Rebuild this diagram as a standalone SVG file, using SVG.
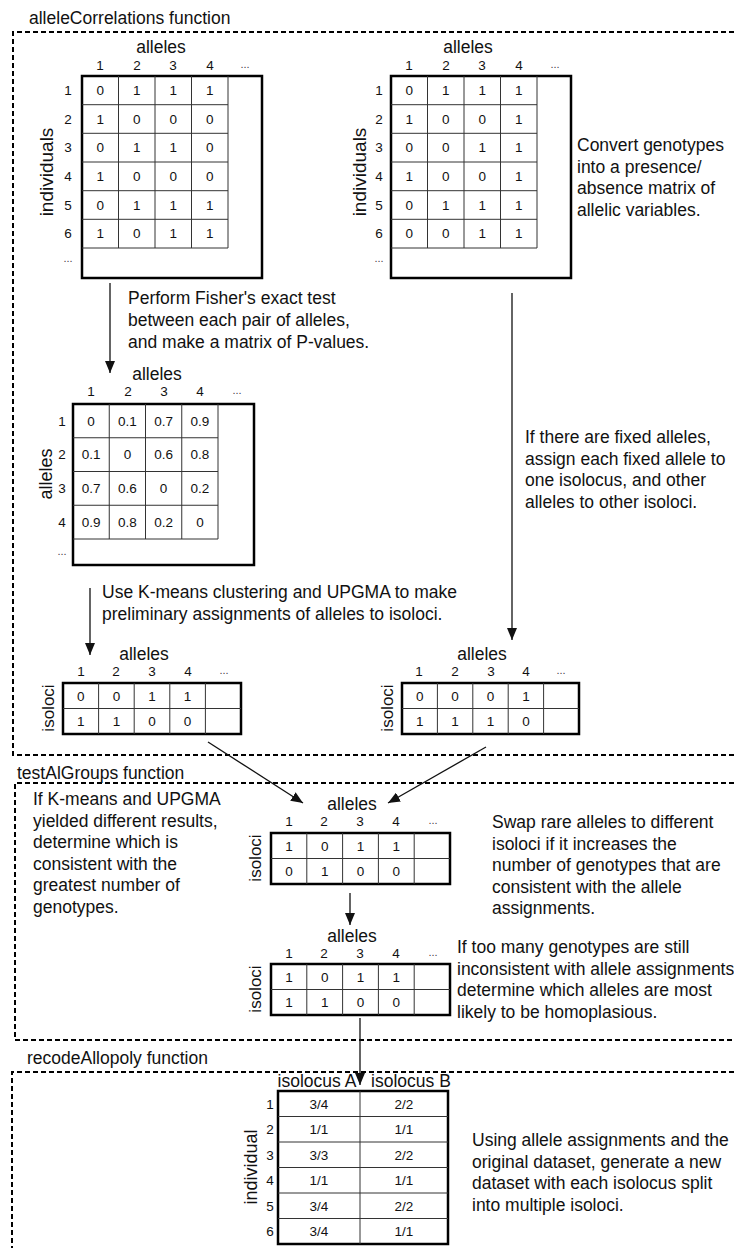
<svg xmlns="http://www.w3.org/2000/svg" width="734" height="1248" viewBox="0 0 734 1248">
<style>
text{font-family:"Liberation Sans",Arial,sans-serif;fill:#111}
.t{font-size:17.5px}
.h{font-size:17.5px;text-anchor:middle}
.r{font-size:18px;text-anchor:middle}
.ri{font-size:19px;text-anchor:middle}
.rs{font-size:17px;text-anchor:middle}
.n{font-size:13.5px;text-anchor:middle}
.v{font-size:13.5px;text-anchor:middle}
.d{font-size:11px;text-anchor:middle;fill:#444}
.box{fill:none;stroke:#000;stroke-width:2;stroke-dasharray:5 3}
.outer{fill:none;stroke:#000;stroke-width:2.5}
.grid{fill:none;stroke:#333;stroke-width:1}
.arr{fill:none;stroke:#111;stroke-width:1.3;marker-end:url(#ah)}
</style>
<defs>
<marker id="ah" viewBox="0 0 12 10" refX="12" refY="5" markerWidth="12" markerHeight="10" markerUnits="userSpaceOnUse" orient="auto"><path d="M0,0L12,5L0,10z" fill="#111"/></marker>
</defs>

<g id="frames">
<path class="box" d="M734,32H13V755H734"/>
<text class="t" x="29" y="24">alleleCorrelations function</text>
<path class="box" d="M734,783H15V1040H734"/>
<text class="t" x="17" y="779">testAlGroups function</text>
<path class="box" d="M734,1072H12V1248"/>
<text class="t" x="27" y="1064">recodeAllopoly function</text>
</g>

<g id="connectors">
<line class="arr" x1="110" y1="283" x2="110" y2="373"/>
<line class="arr" x1="512" y1="293" x2="512" y2="640"/>
<line class="arr" x1="90" y1="588" x2="90" y2="655"/>
<line class="arr" x1="208" y1="742" x2="303" y2="803"/>
<line class="arr" x1="486" y1="747" x2="388" y2="803"/>
<line class="arr" x1="350" y1="893" x2="350" y2="925"/>
<line class="arr" x1="360" y1="1018" x2="360" y2="1085"/>
</g>

<g id="matrix-genotypes-1">
<rect class="outer" x="82" y="76" width="180" height="202"/>
<path class="grid" d="M118.5,76V248M155,76V248M191.5,76V248M228,76V248M82,104.7H228M82,133.3H228M82,162H228M82,190.7H228M82,219.3H228M82,248H228"/>
<text class="h" x="161" y="53">alleles</text>
<text class="n" x="100" y="70">1</text><text class="n" x="137" y="70">2</text><text class="n" x="173" y="70">3</text><text class="n" x="210" y="70">4</text><text class="d" x="245" y="68">...</text>
<text class="n" x="68" y="95">1</text><text class="n" x="68" y="123.5">2</text><text class="n" x="68" y="152">3</text><text class="n" x="68" y="181">4</text><text class="n" x="68" y="209.5">5</text><text class="n" x="68" y="238">6</text><text class="d" x="68" y="262">...</text>
<text class="ri" transform="translate(53,172) rotate(-90)">individuals</text>
<text class="n" x="100.3" y="95">0</text><text class="n" x="136.8" y="95">1</text><text class="n" x="173.3" y="95">1</text><text class="n" x="209.8" y="95">1</text>
<text class="n" x="100.3" y="123.5">1</text><text class="n" x="136.8" y="123.5">0</text><text class="n" x="173.3" y="123.5">0</text><text class="n" x="209.8" y="123.5">0</text>
<text class="n" x="100.3" y="152">0</text><text class="n" x="136.8" y="152">1</text><text class="n" x="173.3" y="152">1</text><text class="n" x="209.8" y="152">0</text>
<text class="n" x="100.3" y="181">1</text><text class="n" x="136.8" y="181">0</text><text class="n" x="173.3" y="181">0</text><text class="n" x="209.8" y="181">0</text>
<text class="n" x="100.3" y="209.5">0</text><text class="n" x="136.8" y="209.5">1</text><text class="n" x="173.3" y="209.5">1</text><text class="n" x="209.8" y="209.5">1</text>
<text class="n" x="100.3" y="238">1</text><text class="n" x="136.8" y="238">0</text><text class="n" x="173.3" y="238">1</text><text class="n" x="209.8" y="238">1</text>
</g>

<g id="matrix-genotypes-2">
<rect class="outer" x="391" y="76" width="180" height="202"/>
<path class="grid" d="M427.5,76V248M464,76V248M500.5,76V248M537,76V248M391,104.7H537M391,133.3H537M391,162H537M391,190.7H537M391,219.3H537M391,248H537"/>
<text class="h" x="468" y="53">alleles</text>
<text class="n" x="409" y="70">1</text><text class="n" x="446" y="70">2</text><text class="n" x="482" y="70">3</text><text class="n" x="519" y="70">4</text><text class="d" x="555" y="68">...</text>
<text class="n" x="379" y="95">1</text><text class="n" x="379" y="123.5">2</text><text class="n" x="379" y="152">3</text><text class="n" x="379" y="181">4</text><text class="n" x="379" y="209.5">5</text><text class="n" x="379" y="238">6</text><text class="d" x="379" y="262">...</text>
<text class="ri" transform="translate(366,172) rotate(-90)">individuals</text>
<text class="n" x="409.3" y="95">0</text><text class="n" x="445.8" y="95">1</text><text class="n" x="482.3" y="95">1</text><text class="n" x="518.8" y="95">1</text>
<text class="n" x="409.3" y="123.5">1</text><text class="n" x="445.8" y="123.5">0</text><text class="n" x="482.3" y="123.5">0</text><text class="n" x="518.8" y="123.5">1</text>
<text class="n" x="409.3" y="152">0</text><text class="n" x="445.8" y="152">0</text><text class="n" x="482.3" y="152">1</text><text class="n" x="518.8" y="152">1</text>
<text class="n" x="409.3" y="181">1</text><text class="n" x="445.8" y="181">0</text><text class="n" x="482.3" y="181">0</text><text class="n" x="518.8" y="181">1</text>
<text class="n" x="409.3" y="209.5">0</text><text class="n" x="445.8" y="209.5">1</text><text class="n" x="482.3" y="209.5">1</text><text class="n" x="518.8" y="209.5">1</text>
<text class="n" x="409.3" y="238">0</text><text class="n" x="445.8" y="238">0</text><text class="n" x="482.3" y="238">1</text><text class="n" x="518.8" y="238">1</text>
</g>

<g id="note-convert">
<text class="t" x="577" y="151">Convert genotypes</text>
<text class="t" x="577" y="172.5">into a presence/</text>
<text class="t" x="577" y="194">absence matrix of</text>
<text class="t" x="577" y="215.5">allelic variables.</text>
</g>

<g id="note-fisher">
<text class="t" x="128" y="304">Perform Fisher's exact test</text>
<text class="t" x="128" y="326">between each pair of alleles,</text>
<text class="t" x="128" y="348">and make a matrix of P-values.</text>
</g>

<g id="note-fixed">
<text class="t" x="525" y="443">If there are fixed alleles,</text>
<text class="t" x="525" y="464.5">assign each fixed allele to</text>
<text class="t" x="525" y="486">one isolocus, and other</text>
<text class="t" x="525" y="507.5">alleles to other isoloci.</text>
</g>

<g id="matrix-pvalues">
<rect class="outer" x="73" y="404" width="181" height="161"/>
<path class="grid" d="M109.25,404V539M145.5,404V539M181.75,404V539M218,404V539M73,437.75H218M73,471.5H218M73,505.25H218M73,539H218"/>
<text class="h" x="157" y="380">alleles</text>
<text class="n" x="91" y="396">1</text><text class="n" x="128" y="396">2</text><text class="n" x="164" y="396">3</text><text class="n" x="200" y="396">4</text><text class="d" x="237" y="394">...</text>
<text class="n" x="62" y="425.5">1</text><text class="n" x="62" y="459.3">2</text><text class="n" x="62" y="493">3</text><text class="n" x="62" y="526.8">4</text><text class="d" x="62" y="555">...</text>
<text class="r" transform="translate(52,474) rotate(-90)">alleles</text>
<text class="v" x="91.1" y="425.5">0</text><text class="v" x="127.4" y="425.5">0.1</text><text class="v" x="163.6" y="425.5">0.7</text><text class="v" x="199.9" y="425.5">0.9</text>
<text class="v" x="91.1" y="459.3">0.1</text><text class="v" x="127.4" y="459.3">0</text><text class="v" x="163.6" y="459.3">0.6</text><text class="v" x="199.9" y="459.3">0.8</text>
<text class="v" x="91.1" y="493">0.7</text><text class="v" x="127.4" y="493">0.6</text><text class="v" x="163.6" y="493">0</text><text class="v" x="199.9" y="493">0.2</text>
<text class="v" x="91.1" y="526.8">0.9</text><text class="v" x="127.4" y="526.8">0.8</text><text class="v" x="163.6" y="526.8">0.2</text><text class="v" x="199.9" y="526.8">0</text>
</g>

<g id="note-kmeans">
<text class="t" x="102" y="598">Use K-means clustering and UPGMA to make</text>
<text class="t" x="102" y="620">preliminary assignments of alleles to isoloci.</text>
</g>

<g id="matrix-isoloci-kmeans">
<rect class="outer" x="63" y="683" width="178" height="51"/>
<path class="grid" d="M98.6,683V734M134.2,683V734M169.8,683V734M205.4,683V734M63,708.5H241"/>
<text class="h" x="144" y="660">alleles</text>
<text class="n" x="81" y="676">1</text><text class="n" x="116" y="676">2</text><text class="n" x="152" y="676">3</text><text class="n" x="188" y="676">4</text><text class="d" x="224" y="674">...</text>
<text class="rs" transform="translate(54,708) rotate(-90)">isoloci</text>
<text class="n" x="80.8" y="700.5">0</text><text class="n" x="116.4" y="700.5">0</text><text class="n" x="152" y="700.5">1</text><text class="n" x="187.6" y="700.5">1</text>
<text class="n" x="80.8" y="726">1</text><text class="n" x="116.4" y="726">1</text><text class="n" x="152" y="726">0</text><text class="n" x="187.6" y="726">0</text>
</g>

<g id="matrix-isoloci-fixed">
<rect class="outer" x="402" y="683" width="177" height="51"/>
<path class="grid" d="M437.4,683V734M472.8,683V734M508.2,683V734M543.6,683V734M402,708.5H579"/>
<text class="h" x="482" y="660">alleles</text>
<text class="n" x="419" y="676">1</text><text class="n" x="455" y="676">2</text><text class="n" x="491" y="676">3</text><text class="n" x="526" y="676">4</text><text class="d" x="561" y="674">...</text>
<text class="rs" transform="translate(393,708) rotate(-90)">isoloci</text>
<text class="n" x="419.7" y="700.5">0</text><text class="n" x="455.1" y="700.5">0</text><text class="n" x="490.5" y="700.5">0</text><text class="n" x="525.9" y="700.5">1</text>
<text class="n" x="419.7" y="726">1</text><text class="n" x="455.1" y="726">1</text><text class="n" x="490.5" y="726">1</text><text class="n" x="525.9" y="726">0</text>
</g>

<g id="note-which">
<text class="t" x="33" y="805">If K-means and UPGMA</text>
<text class="t" x="33" y="826.5">yielded different results,</text>
<text class="t" x="33" y="848">determine which is</text>
<text class="t" x="33" y="869.5">consistent with the</text>
<text class="t" x="33" y="891">greatest number of</text>
<text class="t" x="33" y="912.5">genotypes.</text>
</g>

<g id="matrix-isoloci-chosen">
<rect class="outer" x="271" y="833" width="179" height="51"/>
<path class="grid" d="M306.8,833V884M342.6,833V884M378.4,833V884M414.2,833V884M271,858.5H450"/>
<text class="h" x="352" y="810">alleles</text>
<text class="n" x="289" y="826">1</text><text class="n" x="324" y="826">2</text><text class="n" x="360" y="826">3</text><text class="n" x="396" y="826">4</text><text class="d" x="433" y="824">...</text>
<text class="rs" transform="translate(261,858) rotate(-90)">isoloci</text>
<text class="n" x="288.9" y="850.5">1</text><text class="n" x="324.7" y="850.5">0</text><text class="n" x="360.5" y="850.5">1</text><text class="n" x="396.3" y="850.5">1</text>
<text class="n" x="288.9" y="876">0</text><text class="n" x="324.7" y="876">1</text><text class="n" x="360.5" y="876">0</text><text class="n" x="396.3" y="876">0</text>
</g>

<g id="note-swap">
<text class="t" x="492" y="828">Swap rare alleles to different</text>
<text class="t" x="492" y="849.5">isoloci if it increases the</text>
<text class="t" x="492" y="871">number of genotypes that are</text>
<text class="t" x="492" y="892.5">consistent with the allele</text>
<text class="t" x="492" y="914">assignments.</text>
</g>

<g id="matrix-isoloci-swapped">
<rect class="outer" x="271" y="964" width="179" height="51"/>
<path class="grid" d="M306.8,964V1015M342.6,964V1015M378.4,964V1015M414.2,964V1015M271,989.5H450"/>
<text class="h" x="352" y="942">alleles</text>
<text class="n" x="289" y="958">1</text><text class="n" x="324" y="958">2</text><text class="n" x="360" y="958">3</text><text class="n" x="396" y="958">4</text><text class="d" x="433" y="956">...</text>
<text class="rs" transform="translate(261,989) rotate(-90)">isoloci</text>
<text class="n" x="288.9" y="981.5">1</text><text class="n" x="324.7" y="981.5">0</text><text class="n" x="360.5" y="981.5">1</text><text class="n" x="396.3" y="981.5">1</text>
<text class="n" x="288.9" y="1007">1</text><text class="n" x="324.7" y="1007">1</text><text class="n" x="360.5" y="1007">0</text><text class="n" x="396.3" y="1007">0</text>
</g>

<g id="note-homoplasy">
<text class="t" x="457" y="953">If too many genotypes are still</text>
<text class="t" x="457" y="974.5">inconsistent with allele assignments</text>
<text class="t" x="457" y="996">determine which alleles are most</text>
<text class="t" x="457" y="1017.5">likely to be homoplasious.</text>
</g>

<g id="matrix-recoded">
<rect class="outer" x="278" y="1091" width="170" height="153"/>
<path class="grid" d="M360,1091V1244M278,1116.5H448M278,1142H448M278,1167.5H448M278,1193H448M278,1218.5H448"/>
<text class="h" x="317" y="1087">isolocus A</text>
<text class="h" x="411" y="1087">isolocus B</text>
<text class="n" x="270" y="1108.5">1</text><text class="n" x="270" y="1134">2</text><text class="n" x="270" y="1159.5">3</text><text class="n" x="270" y="1185">4</text><text class="n" x="270" y="1210.5">5</text><text class="n" x="270" y="1236">6</text>
<text class="r" transform="translate(257,1167) rotate(-90)">individual</text>
<text class="v" x="319" y="1108.5">3/4</text><text class="v" x="404" y="1108.5">2/2</text>
<text class="v" x="319" y="1134">1/1</text><text class="v" x="404" y="1134">1/1</text>
<text class="v" x="319" y="1159.5">3/3</text><text class="v" x="404" y="1159.5">2/2</text>
<text class="v" x="319" y="1185">1/1</text><text class="v" x="404" y="1185">1/1</text>
<text class="v" x="319" y="1210.5">3/4</text><text class="v" x="404" y="1210.5">2/2</text>
<text class="v" x="319" y="1236">3/4</text><text class="v" x="404" y="1236">1/1</text>
</g>

<g id="note-recode">
<text class="t" x="472" y="1146">Using allele assignments and the</text>
<text class="t" x="472" y="1167.5">original dataset, generate a new</text>
<text class="t" x="472" y="1189">dataset with each isolocus split</text>
<text class="t" x="472" y="1210.5">into multiple isoloci.</text>
</g>
</svg>
